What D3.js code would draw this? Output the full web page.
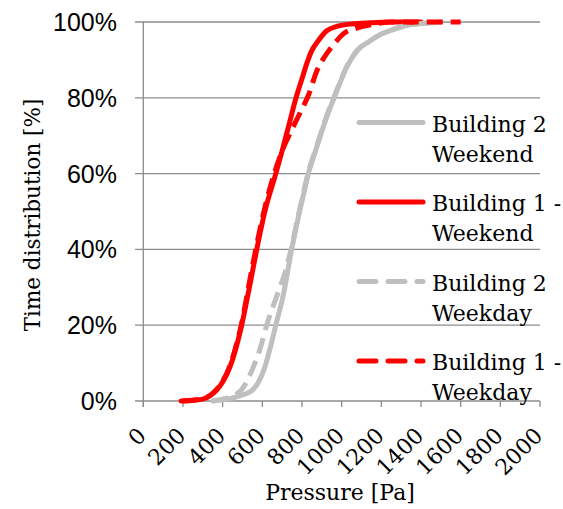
<!DOCTYPE html>
<html>
<head>
<meta charset="utf-8">
<script src="https://cdn.jsdelivr.net/npm/d3@7"></script>
<style>
  html, body { margin: 0; padding: 0; background: #fff; }
  svg { display: block; }
</style>
</head>
<body>
<svg id="chart" width="563" height="509"></svg>
<script>
// ---- data ----
const xTicks = [0, 200, 400, 600, 800, 1000, 1200, 1400, 1600, 1800, 2000];
const yTicks = [0, 20, 40, 60, 80, 100];

const b2WeekendP = [350, 400, 450, 500, 553, 613, 640, 668, 706, 748, 788, 810, 832, 862, 893, 925, 962, 1000, 1025, 1080, 1143, 1200, 1260, 1320, 1400, 1500];
const b2WeekendV = [0, 0.3, 0.8, 1.6, 3, 9, 14, 20, 28, 40, 50, 55, 60, 65, 70, 75, 80, 85, 88, 92.5, 95, 96.8, 98, 99, 99.6, 100];

const b1WeekendP = [190, 250, 300, 340, 372, 400, 437, 470, 496, 535, 572, 613, 668, 700, 735, 770, 800, 824, 850, 881, 925, 980, 1050, 1150, 1250, 1400];
const b1WeekendV = [0, 0.2, 0.5, 1.5, 3, 5, 9, 14.5, 20, 30, 40, 50, 60, 66, 73, 80, 85, 89, 92.5, 95, 97.7, 98.9, 99.5, 99.8, 100, 100];

const b2WeekdayP = [350, 400, 450, 496, 555, 590, 622, 675, 715, 745, 786, 808, 830, 860, 891, 923, 960, 998, 1023, 1078, 1141, 1198, 1258, 1318, 1400, 1500];
const b2WeekdayV = [0, 0.5, 1.2, 3, 9, 14, 20, 28, 34, 40, 50, 55, 60, 65, 70, 75, 80, 85, 88, 92.5, 95, 96.8, 98, 99, 99.6, 100];

const b1WeekdayP = [200, 250, 300, 340, 372, 400, 437, 470, 496, 530, 567, 608, 660, 700, 748, 790, 835, 874, 910, 950, 1007, 1076, 1150, 1250, 1600];
const b1WeekdayV = [0, 0.2, 0.6, 1.6, 3.2, 5.2, 9.3, 15, 20.5, 30, 40, 50, 60, 66, 71.5, 76, 81, 87, 90.5, 93.4, 96.8, 98.4, 99.3, 100, 100];

const seriesNames = [["Building 2", "Weekend"], ["Building 1 -", "Weekend"], ["Building 2", "Weekday"], ["Building 1 -", "Weekday"]];
const seriesColors = ["#bfbfbf", "#ff0000", "#bfbfbf", "#ff0000"];
const seriesDashed = [false, false, true, true];

const series = [
  { p: b2WeekendP, v: b2WeekendV },
  { p: b1WeekendP, v: b1WeekendV },
  { p: b2WeekdayP, v: b2WeekdayV },
  { p: b1WeekdayP, v: b1WeekdayV }
].map((s, i) => ({
  name: seriesNames[i], color: seriesColors[i], dashed: seriesDashed[i],
  pts: s.p.map((p, j) => [p, s.v[j]])
}));

// ---- layout ----
const svg = d3.select("#chart");
const x = d3.scaleLinear().domain([0, 2000]).range([143.3, 540]);
const y = d3.scaleLinear().domain([0, 100]).range([401, 22]);
const gridColor = "#8c8c8c";
const serif = "'DejaVu Serif', serif";

// horizontal gridlines with left tick stubs
svg.append("g").selectAll("line").data(yTicks).join("line")
  .attr("x1", 135).attr("x2", 540)
  .attr("y1", d => y(d)).attr("y2", d => y(d))
  .attr("stroke", gridColor).attr("stroke-width", 1.3);

// y axis line
svg.append("line").attr("x1", x(0)).attr("x2", x(0))
  .attr("y1", y(100)).attr("y2", y(0) + 6)
  .attr("stroke", gridColor).attr("stroke-width", 1.3);

// x ticks
svg.append("g").selectAll("line").data(xTicks).join("line")
  .attr("x1", d => x(d)).attr("x2", d => x(d))
  .attr("y1", y(0)).attr("y2", y(0) + 6)
  .attr("stroke", gridColor).attr("stroke-width", 1.3);

// y tick labels
svg.append("g").selectAll("text").data(yTicks).join("text")
  .attr("x", 117).attr("y", d => y(d)).attr("dy", "0.36em")
  .attr("text-anchor", "end")
  .attr("font-family", "'Liberation Sans', Arial, sans-serif")
  .attr("font-size", 25).attr("fill", "#000")
  .text(d => d + "%");

// x tick labels, rotated
svg.append("g").selectAll("text").data(xTicks).join("text")
  .attr("transform", d => `translate(${x(d) + 4},${437}) rotate(-45)`)
  .attr("text-anchor", "end")
  .attr("font-family", serif).attr("font-size", 22).attr("fill", "#000")
  .text(d => d);

// axis titles
svg.append("text")
  .attr("x", 340).attr("y", 500).attr("text-anchor", "middle")
  .attr("font-family", serif).attr("font-size", 22).attr("fill", "#000")
  .text("Pressure [Pa]");
svg.append("text")
  .attr("transform", `translate(40,215) rotate(-90)`).attr("text-anchor", "middle")
  .attr("font-family", serif).attr("font-size", 21.5).attr("fill", "#000")
  .text("Time distribution [%]");

// series lines
const line = d3.line().x(d => x(d[0])).y(d => y(d[1])).curve(d3.curveMonotoneX);
svg.append("g").selectAll("path").data(series).join("path")
  .attr("d", d => line(d.pts))
  .attr("fill", "none")
  .attr("stroke", d => d.color)
  .attr("stroke-width", 5)
  .attr("stroke-linejoin", "round")
  .attr("stroke-linecap", d => d.dashed ? "butt" : "round")
  .attr("stroke-dasharray", d => d.dashed ? "16,8" : null);

// legend
const legend = svg.append("g");
series.forEach((s, i) => {
  const ly = 122.5 + i * 79.5;
  legend.append("line")
    .attr("x1", 359).attr("x2", 423).attr("y1", ly).attr("y2", ly)
    .attr("stroke", s.color).attr("stroke-width", 5)
    .attr("stroke-linecap", "round")
    .attr("stroke-dasharray", s.dashed ? "17,12" : null);
  s.name.forEach((t, k) => {
    legend.append("text")
      .attr("x", 432).attr("y", ly + 9 + k * 30)
      .attr("font-family", serif).attr("font-size", 22).attr("fill", "#000")
      .text(t);
  });
});
</script>
</body>
</html>
